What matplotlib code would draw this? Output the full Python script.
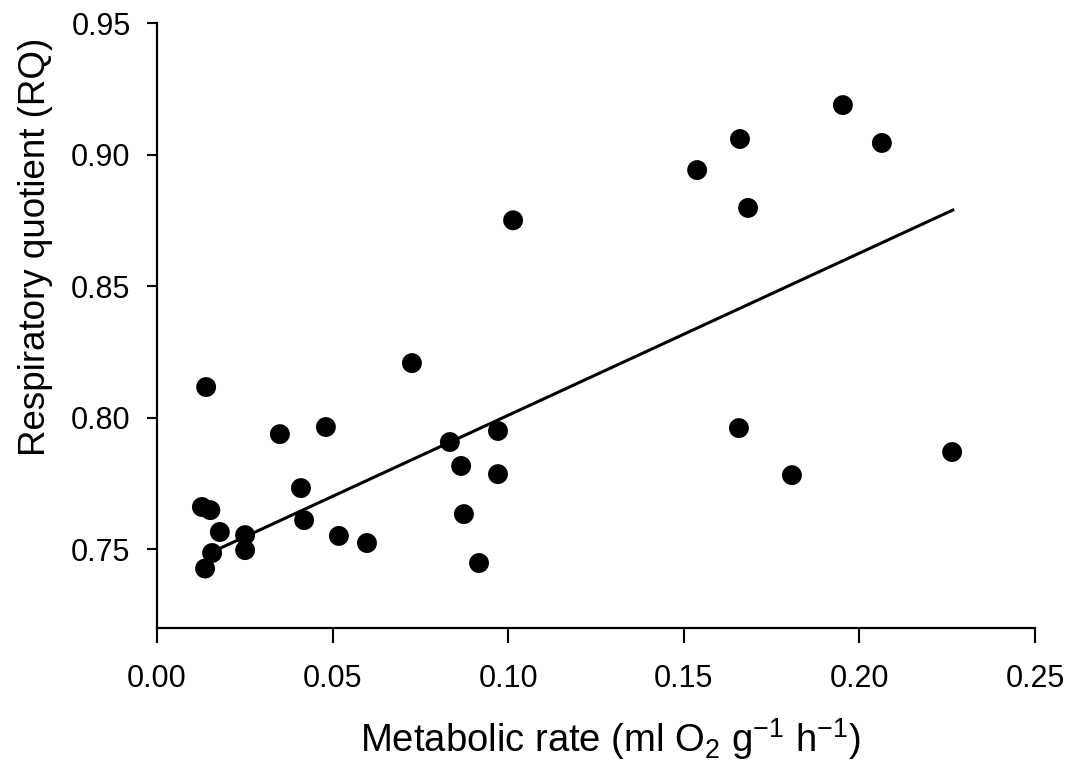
import matplotlib
matplotlib.use("Agg")
import matplotlib.pyplot as plt

plt.rcParams['font.family'] = ['Liberation Sans', 'DejaVu Sans']
plt.rcParams['mathtext.fontset'] = 'custom'
plt.rcParams['mathtext.rm'] = 'Liberation Sans'
plt.rcParams['mathtext.default'] = 'regular'

# metabolic rate (ml O2 g-1 h-1) and respiratory quotient
metabolic_rate = [0.0140, 0.0726, 0.0350, 0.0481, 0.0410, 0.0128, 0.0152,
                  0.0419, 0.0179, 0.0251, 0.0251, 0.0518, 0.0598, 0.0157,
                  0.0137, 0.0834, 0.0971, 0.0866, 0.0971, 0.0874, 0.0917,
                  0.1014, 0.1953, 0.1660, 0.2064, 0.1538, 0.1683, 0.1657,
                  0.1808, 0.2264]
rq = [0.8116, 0.8207, 0.7937, 0.7964, 0.7732, 0.7660, 0.7648,
      0.7610, 0.7565, 0.7553, 0.7496, 0.7550, 0.7523, 0.7485,
      0.7426, 0.7907, 0.7949, 0.7816, 0.7785, 0.7633, 0.7447,
      0.8750, 0.9188, 0.9059, 0.9044, 0.8941, 0.8797, 0.7960,
      0.7781, 0.7869]

# regression line end points
fit_x = [0.0165, 0.2266]
fit_y = [0.7494, 0.8789]

x_ticks = [0.00, 0.05, 0.10, 0.15, 0.20, 0.25]
y_ticks = [0.75, 0.80, 0.85, 0.90, 0.95]

fig = plt.figure(figsize=(10.75, 7.6), dpi=100)
ax = fig.add_axes([0.146, 0.1737, 0.8168, 0.796])

ax.plot(fit_x, fit_y, color='black', lw=2.2, zorder=2)
ax.scatter(metabolic_rate, rq, s=205, color='black', edgecolors='none', zorder=3)

ax.set_xlim(0, 0.25)
ax.set_ylim(0.72, 0.95)
ax.set_xticks(x_ticks)
ax.set_xticklabels(['%.2f' % v for v in x_ticks])
ax.set_yticks(y_ticks)
ax.set_yticklabels(['%.2f' % v for v in y_ticks])

for side in ['top', 'right']:
    ax.spines[side].set_visible(False)
for side in ['left', 'bottom']:
    ax.spines[side].set_linewidth(1.6)

ax.tick_params(axis='x', direction='out', length=11, width=1.5, pad=15, labelsize=22)
ax.tick_params(axis='y', direction='out', length=7, width=1.5, pad=12, labelsize=22)

ax.set_xlabel('Metabolic rate (ml O$_2$ g$^{-1}$ h$^{-1}$)', fontsize=27.5)
ax.set_ylabel('Respiratory quotient (RQ)', fontsize=26.5)
ax.xaxis.set_label_coords(0.516, -0.145)
ax.yaxis.set_label_coords(-0.118, 0.63)

fig.savefig('out.png', dpi=100)
